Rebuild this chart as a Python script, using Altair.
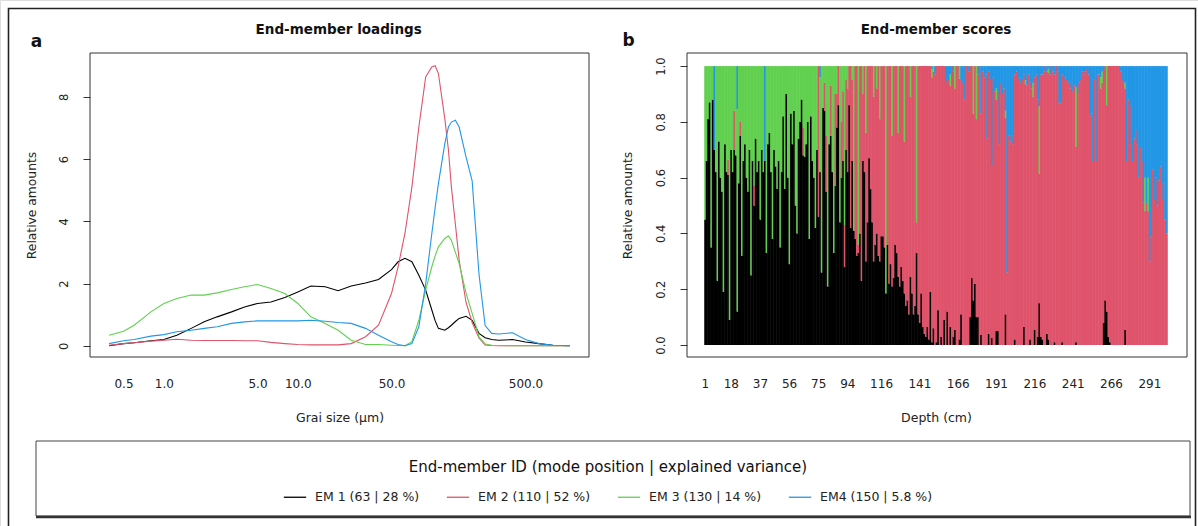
import altair as alt
import pandas as pd

FONT = "DejaVu Sans"

em_labels = ["EM 1 (63 | 28 %)", "EM 2 (110 | 52 %)", "EM 3 (130 | 14 %)", "EM4 (150 | 5.8 %)"]
em_colors = ["#000000", "#DF536B", "#61D04F", "#2297E6"]

# ---------------- Panel a: end-member loadings ----------------
grain_size = [0.39, 0.5, 0.6, 0.8, 1.0, 1.25, 1.6, 2.0, 2.5, 3.2, 4.0, 5.0, 6.3, 8.0, 10, 12.5,
              16, 20, 25, 32, 40, 50, 56, 63, 71, 80, 90, 100, 106, 112, 125, 133, 140, 150,
              160, 180, 200, 225, 250, 280, 315, 400, 500, 630, 800, 1070]

load_em1 = [0.00, 0.07, 0.10, 0.16, 0.20, 0.34, 0.56, 0.77, 0.93, 1.09, 1.25, 1.36, 1.41, 1.55, 1.73, 1.92,
            1.90, 1.77, 1.92, 2.02, 2.13, 2.45, 2.70, 2.81, 2.70, 2.27, 1.79, 1.15, 0.80, 0.56, 0.50, 0.58, 0.66, 0.78,
            0.88, 0.95, 0.82, 0.40, 0.26, 0.20, 0.18, 0.20, 0.12, 0.07, 0.02, 0.00]
load_em2 = [0.02, 0.07, 0.10, 0.15, 0.18, 0.21, 0.18, 0.17, 0.17, 0.17, 0.16, 0.16, 0.11, 0.07, 0.04, 0.03,
            0.03, 0.03, 0.07, 0.29, 0.66, 1.68, 2.54, 3.61, 5.10, 7.03, 8.64, 8.96, 9.00, 8.75, 7.30, 6.30, 5.10, 3.90,
            2.75, 1.40, 0.75, 0.25, 0.03, 0.01, 0.00, 0.00, 0.00, 0.00, 0.00, 0.00]
load_em3 = [0.34, 0.47, 0.66, 1.09, 1.36, 1.52, 1.63, 1.63, 1.70, 1.81, 1.90, 1.97, 1.84, 1.68, 1.36, 0.93,
            0.72, 0.50, 0.18, 0.04, 0.04, 0.02, 0.01, 0.00, 0.13, 0.82, 1.79, 2.54, 2.90, 3.18, 3.45, 3.53, 3.39, 3.00,
            2.64, 1.70, 1.04, 0.29, 0.06, 0.02, 0.01, 0.00, 0.00, 0.00, 0.00, 0.00]
load_em4 = [0.07, 0.16, 0.20, 0.31, 0.36, 0.45, 0.50, 0.56, 0.61, 0.72, 0.77, 0.80, 0.80, 0.80, 0.80, 0.82,
            0.79, 0.75, 0.72, 0.56, 0.34, 0.13, 0.04, 0.00, 0.07, 0.61, 2.00, 3.61, 4.46, 5.21, 6.50, 7.03, 7.19, 7.25,
            7.03, 6.07, 5.30, 2.30, 0.65, 0.40, 0.38, 0.42, 0.20, 0.07, 0.02, 0.00]

size_ticks = [0.5, 1, 5, 10, 50, 500]

# ---------------- Panel b: end-member scores ----------------
depth_ticks = [1, 18, 37, 56, 75, 94, 116, 141, 166, 191, 216, 241, 266, 291]

score_em1 = [
    0.45, 0.66, 0.81, 0.87, 0.35, 0.88, 0.70, 0.62, 0.23, 0.73,
    0.60, 0.55, 0.19, 0.72, 0.62, 0.61, 0.09, 0.70, 0.62, 0.70,
    0.68, 0.12, 0.58, 0.75, 0.32, 0.66, 0.72, 0.60, 0.55, 0.70,
    0.25, 0.66, 0.50, 0.74, 0.62, 0.66, 0.45, 0.70, 0.62, 0.66,
    0.33, 0.72, 0.76, 0.62, 0.38, 0.70, 0.64, 0.56, 0.66, 0.35,
    0.62, 0.82, 0.56, 0.90, 0.60, 0.29, 0.83, 0.72, 0.84, 0.50,
    0.40, 0.74, 0.80, 0.88, 0.68, 0.675, 0.72, 0.80, 0.38, 0.82,
    0.66, 0.60, 0.42, 0.70, 0.46, 0.62, 0.26, 0.85, 0.84, 0.55,
    0.21, 0.72, 0.75, 0.62, 0.33, 0.57, 0.78, 0.86, 0.44, 0.60,
    0.66, 0.28, 0.70, 0.62, 0.86, 0.42, 0.66, 0.41, 0.38, 0.32,
    0.33, 0.40, 0.23, 0.66, 0.62, 0.30, 0.44, 0.67, 0.56, 0.44,
    0.30, 0.36, 0.40, 0.32, 0.30, 0.39, 0.39, 0.35, 0.185, 0.36,
    0.22, 0.29, 0.21, 0.24, 0.36, 0.33, 0.245, 0.21, 0.28, 0.23,
    0.185, 0.14, 0.16, 0.11, 0.245, 0.185, 0.11, 0.14, 0.33, 0.11,
    0.08, 0.185, 0.065, 0.04, 0.03, 0.065, 0.02, 0.19, 0.01, 0.06,
    0.00, 0.01, 0.125, 0.00, 0.03, 0.00, 0.09, 0.00, 0.12, 0.00,
    0.065, 0.00, 0.03, 0.055, 0.00, 0.00, 0.02, 0.11, 0.00, 0.00,
    0.00, 0.00, 0.00, 0.10, 0.24, 0.16, 0.22, 0.10, 0.10, 0.00,
    0.036, 0.00, 0.00, 0.00, 0.00, 0.04, 0.00, 0.025, 0.00, 0.00,
    0.05, 0.05, 0.00, 0.00, 0.00, 0.00, 0.11, 0.00, 0.00, 0.00,
    0.00, 0.00, 0.02, 0.00, 0.00, 0.00, 0.00, 0.00, 0.065, 0.00,
    0.00, 0.00, 0.02, 0.00, 0.00, 0.055, 0.00, 0.03, 0.15, 0.03,
    0.02, 0.00, 0.00, 0.04, 0.02, 0.00, 0.00, 0.00, 0.01, 0.00,
    0.00, 0.00, 0.00, 0.01, 0.00, 0.00, 0.00, 0.00, 0.00, 0.00,
    0.00, 0.00, 0.01, 0.00, 0.00, 0.00, 0.00, 0.00, 0.00, 0.00,
    0.00, 0.00, 0.00, 0.00, 0.00, 0.00, 0.00, 0.00, 0.00, 0.00,
    0.08, 0.16, 0.12, 0.03, 0.01, 0.00, 0.00, 0.00, 0.00, 0.00,
    0.00, 0.00, 0.00, 0.00, 0.055, 0.00, 0.00, 0.00, 0.00, 0.00,
    0.00, 0.00, 0.00, 0.00, 0.00, 0.00, 0.00, 0.00, 0.00, 0.00,
    0.00, 0.00, 0.00, 0.00, 0.00, 0.00, 0.00, 0.00, 0.00, 0.00,
    0.00, 0.00,
]

score_em3 = [
    0.55, 0.34, 0.19, 0.13, 0.65, 0.12, 0.00, 0.38, 0.77, 0.27,
    0.40, 0.45, 0.81, 0.28, 0.38, 0.335, 0.91, 0.30, 0.38, 0.16,
    0.32, 0.725, 0.42, 0.20, 0.68, 0.34, 0.28, 0.40, 0.45, 0.30,
    0.75, 0.34, 0.43, 0.26, 0.38, 0.34, 0.55, 0.30, 0.38, 0.00,
    0.67, 0.28, 0.24, 0.38, 0.62, 0.30, 0.36, 0.44, 0.34, 0.65,
    0.38, 0.18, 0.44, 0.10, 0.40, 0.71, 0.17, 0.28, 0.16, 0.50,
    0.60, 0.26, 0.20, 0.12, 0.22, 0.325, 0.28, 0.20, 0.62, 0.18,
    0.34, 0.40, 0.58, 0.30, 0.00, 0.34, 0.74, 0.15, 0.06, 0.25,
    0.79, 0.28, 0.07, 0.38, 0.67, 0.10, 0.10, 0.00, 0.56, 0.20,
    0.09, 0.57, 0.05, 0.08, 0.00, 0.00, 0.05, 0.59, 0.00, 0.00,
    0.64, 0.00, 0.00, 0.10, 0.00, 0.24, 0.00, 0.00, 0.00, 0.00,
    0.11, 0.00, 0.08, 0.00, 0.19, 0.00, 0.00, 0.00, 0.815, 0.00,
    0.00, 0.00, 0.25, 0.00, 0.00, 0.00, 0.24, 0.00, 0.00, 0.00,
    0.27, 0.00, 0.00, 0.00, 0.11, 0.00, 0.00, 0.00, 0.56, 0.00,
    0.00, 0.00, 0.00, 0.00, 0.00, 0.00, 0.00, 0.00, 0.03, 0.02,
    0.00, 0.00, 0.00, 0.00, 0.00, 0.00, 0.00, 0.00, 0.00, 0.00,
    0.04, 0.00, 0.00, 0.08, 0.00, 0.00, 0.045, 0.00, 0.00, 0.00,
    0.00, 0.00, 0.00, 0.00, 0.00, 0.17, 0.00, 0.19, 0.00, 0.00,
    0.00, 0.00, 0.00, 0.00, 0.00, 0.00, 0.00, 0.00, 0.00, 0.00,
    0.04, 0.00, 0.00, 0.00, 0.00, 0.00, 0.025, 0.00, 0.00, 0.00,
    0.00, 0.00, 0.00, 0.00, 0.00, 0.00, 0.00, 0.00, 0.00, 0.015,
    0.00, 0.00, 0.00, 0.00, 0.05, 0.00, 0.00, 0.00, 0.24, 0.00,
    0.00, 0.00, 0.00, 0.00, 0.015, 0.00, 0.00, 0.00, 0.00, 0.00,
    0.00, 0.00, 0.00, 0.00, 0.00, 0.00, 0.00, 0.00, 0.00, 0.00,
    0.00, 0.00, 0.215, 0.00, 0.00, 0.00, 0.00, 0.00, 0.00, 0.00,
    0.00, 0.00, 0.00, 0.00, 0.00, 0.00, 0.00, 0.00, 0.04, 0.04,
    0.00, 0.00, 0.14, 0.00, 0.00, 0.00, 0.00, 0.00, 0.00, 0.00,
    0.00, 0.00, 0.00, 0.00, 0.02, 0.00, 0.00, 0.00, 0.00, 0.00,
    0.00, 0.00, 0.00, 0.00, 0.00, 0.00, 0.00, 0.12, 0.00, 0.12,
    0.00, 0.00, 0.00, 0.00, 0.00, 0.00, 0.00, 0.00, 0.00, 0.00,
    0.00, 0.00,
]

score_em4 = [
    0.00, 0.00, 0.00, 0.00, 0.00, 0.00, 0.30, 0.00, 0.00, 0.00,
    0.00, 0.00, 0.00, 0.00, 0.00, 0.00, 0.00, 0.00, 0.00, 0.00,
    0.00, 0.155, 0.00, 0.00, 0.00, 0.00, 0.00, 0.00, 0.00, 0.00,
    0.00, 0.00, 0.00, 0.00, 0.00, 0.00, 0.00, 0.00, 0.00, 0.34,
    0.00, 0.00, 0.00, 0.00, 0.00, 0.00, 0.00, 0.00, 0.00, 0.00,
    0.00, 0.00, 0.00, 0.00, 0.00, 0.00, 0.00, 0.00, 0.00, 0.00,
    0.00, 0.00, 0.00, 0.00, 0.00, 0.00, 0.00, 0.00, 0.00, 0.00,
    0.00, 0.00, 0.00, 0.00, 0.00, 0.04, 0.00, 0.00, 0.00, 0.00,
    0.00, 0.00, 0.00, 0.00, 0.00, 0.00, 0.00, 0.00, 0.00, 0.00,
    0.00, 0.00, 0.00, 0.00, 0.00, 0.00, 0.00, 0.00, 0.00, 0.00,
    0.00, 0.00, 0.00, 0.00, 0.00, 0.00, 0.00, 0.00, 0.00, 0.00,
    0.00, 0.00, 0.00, 0.00, 0.00, 0.00, 0.00, 0.00, 0.00, 0.00,
    0.00, 0.00, 0.00, 0.00, 0.00, 0.00, 0.00, 0.00, 0.00, 0.00,
    0.00, 0.00, 0.00, 0.00, 0.00, 0.00, 0.00, 0.00, 0.00, 0.00,
    0.00, 0.00, 0.00, 0.00, 0.00, 0.00, 0.00, 0.00, 0.01, 0.00,
    0.03, 0.00, 0.00, 0.00, 0.00, 0.00, 0.00, 0.05, 0.06, 0.05,
    0.03, 0.00, 0.02, 0.00, 0.00, 0.00, 0.00, 0.05, 0.06, 0.12,
    0.00, 0.00, 0.02, 0.00, 0.00, 0.00, 0.00, 0.00, 0.03, 0.00,
    0.17, 0.02, 0.04, 0.03, 0.26, 0.02, 0.05, 0.355, 0.04, 0.09,
    0.08, 0.09, 0.28, 0.06, 0.10, 0.08, 0.16, 0.74, 0.25, 0.27,
    0.25, 0.28, 0.03, 0.02, 0.05, 0.04, 0.06, 0.05, 0.03, 0.05,
    0.07, 0.03, 0.06, 0.08, 0.06, 0.04, 0.03, 0.12, 0.145, 0.03,
    0.03, 0.02, 0.00, 0.02, 0.01, 0.03, 0.00, 0.02, 0.03, 0.00,
    0.02, 0.135, 0.13, 0.03, 0.05, 0.04, 0.05, 0.06, 0.08, 0.06,
    0.09, 0.07, 0.075, 0.10, 0.06, 0.05, 0.02, 0.03, 0.02, 0.01,
    0.03, 0.18, 0.17, 0.34, 0.05, 0.34, 0.03, 0.03, 0.04, 0.02,
    0.01, 0.00, 0.00, 0.00, 0.00, 0.00, 0.00, 0.00, 0.00, 0.00,
    0.00, 0.02, 0.05, 0.06, 0.06, 0.34, 0.12, 0.28, 0.14, 0.34,
    0.26, 0.23, 0.28, 0.40, 0.29, 0.34, 0.49, 0.40, 0.49, 0.40,
    0.70, 0.61, 0.37, 0.48, 0.40, 0.50, 0.41, 0.36, 0.48, 0.42,
    0.55, 0.60,
]

# ---------------- tables ----------------
load_series = [load_em1, load_em2, load_em3, load_em4]
load_rows = []
for k, (lab, vals) in enumerate(zip(em_labels, load_series)):
    for s, v in zip(grain_size, vals):
        load_rows.append({"size": s, "value": v, "em": lab, "k": k})
load_df = pd.DataFrame(load_rows)

score_rows = []
for i, (a, c, d) in enumerate(zip(score_em1, score_em3, score_em4)):
    b = max(0.0, round(1.0 - a - c - d, 4))
    for k, v in enumerate([a, b, c, d]):
        score_rows.append({"depth": i + 1, "value": v, "em": em_labels[k], "k": k})
score_df = pd.DataFrame(score_rows)

dummy = pd.DataFrame({"k": [0]})

color_scale = alt.Scale(domain=em_labels, range=em_colors)

# ---------------- panel a layer ----------------
lines = alt.Chart(load_df).mark_line(strokeWidth=1.1).encode(
    x=alt.X("size:Q",
            scale=alt.Scale(type="log", domain=[0.281, 1490], range=[90, 589], nice=False),
            axis=alt.Axis(values=size_ticks, format=".1f", orient="bottom", offset=-169,
                          domain=False, ticks=False, grid=False, labelPadding=21,
                          labelFontSize=12, labelFont=FONT, labelColor="#222",
                          labelOverlap=False, labelFlush=False,
                          title="Grai size (µm)", titleX=339.5, titleY=60, titleAlign="center",
                          titleBaseline="middle", titleFont=FONT, titleFontSize=12.5,
                          titleFontWeight="normal", titleColor="#222")),
    y=alt.Y("value:Q",
            scale=alt.Scale(domain=[-0.36, 9.41], range=[357, 53], nice=False, zero=False),
            axis=alt.Axis(values=[0, 2, 4, 6, 8], orient="left", offset=-90, domain=False,
                          grid=False, tickSize=7, tickColor="#333", labelAngle=270,
                          labelAlign="center", labelBaseline="bottom", labelPadding=14,
                          labelFontSize=11.5, labelFont=FONT, labelColor="#222",
                          title="Relative amounts", titleX=-59, titleY=205, titleAngle=270,
                          titleAlign="center", titleBaseline="middle", titleFont=FONT,
                          titleFontSize=12.3, titleFontWeight="normal", titleColor="#222")),
    color=alt.Color("em:N", scale=color_scale,
                    legend=alt.Legend(orient="none", legendX=283, legendY=460,
                                      direction="horizontal",
                                      title="End-member ID (mode position | explained variance)",
                                      titleAnchor="middle", titleFont=FONT, titleFontSize=15,
                                      titleFontWeight="normal", titleColor="#111",
                                      titleLimit=1000, titlePadding=10, labelFont=FONT,
                                      labelFontSize=12.5, labelLimit=400,
                                      labelColor="#222", symbolType="stroke",
                                      symbolStrokeWidth=1.3, symbolSize=500, labelOffset=8,
                                      columnPadding=24, padding=0)),
    detail="em:N",
)

# ---------------- panel b layer ----------------
bars = alt.Chart(score_df).mark_bar(width=alt.RelativeBandSize(1.35), strokeWidth=0).encode(
    x=alt.X("depth:O",
            scale=alt.Scale(type="band", range=[704.5, 1167.5], paddingInner=0, paddingOuter=0),
            axis=alt.Axis(values=depth_ticks, orient="bottom", offset=-169, domain=False,
                          ticks=False, grid=False, labelAngle=0, labelPadding=21,
                          labelFontSize=12, labelFont=FONT, labelColor="#222",
                          labelOverlap=False,
                          title="Depth (cm)", titleX=936, titleY=60, titleAlign="center",
                          titleBaseline="middle", titleFont=FONT, titleFontSize=12.5,
                          titleFontWeight="normal", titleColor="#222")),
    y=alt.Y("value:Q", stack="zero",
            scale=alt.Scale(domain=[-0.043, 1.047], range=[357, 53], nice=False, zero=False),
            axis=alt.Axis(values=[0, 0.2, 0.4, 0.6, 0.8, 1.0], format=".1f", orient="left",
                          offset=-687, domain=False, grid=False, tickSize=7, tickColor="#333",
                          labelAngle=270, labelAlign="center", labelBaseline="bottom",
                          labelPadding=14, labelFontSize=11.5, labelFont=FONT,
                          labelColor="#222",
                          title="Relative amounts", titleX=-60, titleY=205, titleAngle=270,
                          titleAlign="center", titleBaseline="middle", titleFont=FONT,
                          titleFontSize=12.3, titleFontWeight="normal", titleColor="#222")),
    color=alt.Color("em:N", scale=color_scale, legend=None),
    order=alt.Order("k:Q", sort="ascending"),
)

# ---------------- frames & text ----------------
def frame(x1, x2, y1, y2, color="#333", width=1.0):
    return alt.Chart(dummy).mark_rect(fillOpacity=0, stroke=color, strokeWidth=width).encode(
        x=alt.value(x1), x2=alt.value(x2), y=alt.value(y1), y2=alt.value(y2))

def label(txt, x, y, size, weight="normal"):
    return alt.Chart(dummy).mark_text(font=FONT, fontSize=size, fontWeight=weight,
                                      color="#111", align="center", baseline="middle").encode(
        x=alt.value(x), y=alt.value(y), text=alt.value(txt))

outer = frame(8.5, 1195.5, 8.5, 560, "#222", 1.6)
box_a = frame(90, 589, 53, 357)
box_b = frame(687, 1187, 53, 357)
legend_box = frame(36, 1190, 441, 516, "#444", 1.0)
legend_shadow = alt.Chart(dummy).mark_rule(color="#333", strokeWidth=2.5).encode(
    x=alt.value(36), x2=alt.value(1191), y=alt.value(517), y2=alt.value(517))

title_a = label("End-member loadings", 338.7, 29.5, 13.5, "bold")
title_b = label("End-member scores", 936, 29.5, 13.5, "bold")
tag_a = label("a", 36.5, 42, 17, "bold")
tag_b = label("b", 628.5, 41, 17, "bold")

chart = alt.layer(
    outer, box_a, box_b, legend_box, legend_shadow,
    bars, lines,
    title_a, title_b, tag_a, tag_b,
).resolve_scale(
    x="independent", y="independent", color="independent"
).properties(
    width=1198, height=526, padding=0,
    autosize=alt.AutoSizeParams(type="none"),
    background="white",
).configure_view(strokeWidth=0).configure(font=FONT)

chart.save("out.html", embed_options={"renderer": "svg", "actions": False})
